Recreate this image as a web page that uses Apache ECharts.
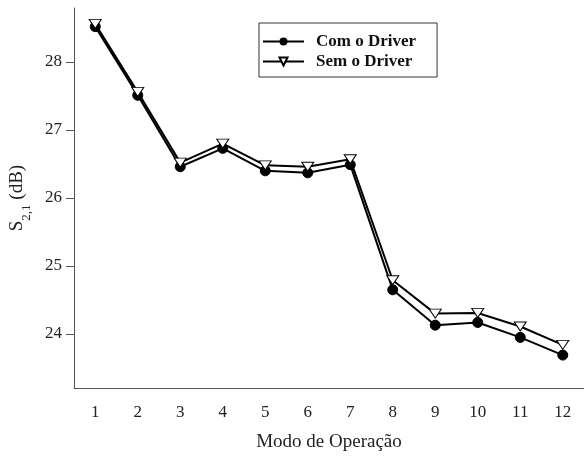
<!DOCTYPE html>
<html>
<head>
<meta charset="utf-8">
<script src="https://cdn.jsdelivr.net/npm/echarts@6/dist/echarts.min.js"></script>
<style>
html,body{margin:0;padding:0;background:#fff;}
#c{width:584px;height:464px;}
</style>
</head>
<body>
<div id="c"></div>
<script>
var categories = ['1','2','3','4','5','6','7','8','9','10','11','12'];
var comDriver = [28.52, 27.51, 26.46, 26.73, 26.40, 26.37, 26.49, 24.65, 24.13, 24.17, 23.95, 23.69];
var semDriver = [28.56, 27.56, 26.52, 26.80, 26.48, 26.46, 26.57, 24.79, 24.30, 24.31, 24.11, 23.84];
var yTicks = [24, 25, 26, 27, 28];

var FONT = '"Liberation Serif", "Times New Roman", serif';
var chart = echarts.init(document.getElementById('c'));
chart.setOption({
  backgroundColor: '#fff',
  animation: false,
  grid: {left: 74, right: 0, top: 8, bottom: 76, containLabel: false},
  legend: {
    orient: 'vertical',
    left: 259,
    top: 23,
    padding: [10, 21, 7, 3],
    itemGap: 3,
    itemWidth: 41,
    itemHeight: 10,
    borderColor: '#333',
    borderWidth: 1,
    textStyle: {fontFamily: FONT, fontSize: 17, fontWeight: 'bold', color: '#111', padding: [0, 0, 0, 7]},
    data: ['Com o Driver', 'Sem o Driver']
  },
  xAxis: {
    type: 'category',
    data: categories,
    boundaryGap: true,
    name: 'Modo de Operação',
    nameLocation: 'middle',
    nameGap: 45,
    nameTextStyle: {fontFamily: FONT, fontSize: 19, color: '#222'},
    axisLine: {lineStyle: {color: '#555', width: 1}},
    axisTick: {alignWithLabel: true, length: 7, lineStyle: {color: '#555'}},
    axisLabel: {fontFamily: FONT, fontSize: 17, color: '#222', margin: 16},
    splitLine: {show: false}
  },
  yAxis: {
    type: 'value',
    min: 23.206,
    max: 28.794,
    name: '{m|S}{s|2,1}{m| (dB)}',
    nameLocation: 'middle',
    nameGap: 47,
    nameRotate: 90,
    nameTextStyle: {
      fontFamily: FONT, fontSize: 19, color: '#222',
      rich: {
        m: {fontFamily: FONT, fontSize: 19, color: '#222'},
        s: {fontFamily: FONT, fontSize: 13, color: '#222', verticalAlign: 'bottom', padding: [0, 0, -6, 0]}
      }
    },
    axisLine: {show: true, lineStyle: {color: '#555', width: 1}},
    axisTick: {show: true, length: 8, lineStyle: {color: '#555'}, customValues: yTicks},
    axisLabel: {fontFamily: FONT, fontSize: 17, color: '#222', margin: 12, customValues: yTicks},
    splitLine: {show: false}
  },
  series: [
    {
      name: 'Com o Driver',
      type: 'line',
      data: comDriver,
      symbol: 'circle',
      symbolSize: 10,
      lineStyle: {color: '#000', width: 2},
      itemStyle: {color: '#000', borderColor: '#000'},
      z: 3
    },
    {
      name: 'Sem o Driver',
      type: 'line',
      data: semDriver,
      symbol: 'path://M0,0 L12,0 L6,9 Z',
      symbolSize: [12, 9],
      lineStyle: {color: '#000', width: 2},
      itemStyle: {color: '#fff', borderColor: '#000', borderWidth: 1},
      z: 4
    }
  ]
});
</script>
</body>
</html>
